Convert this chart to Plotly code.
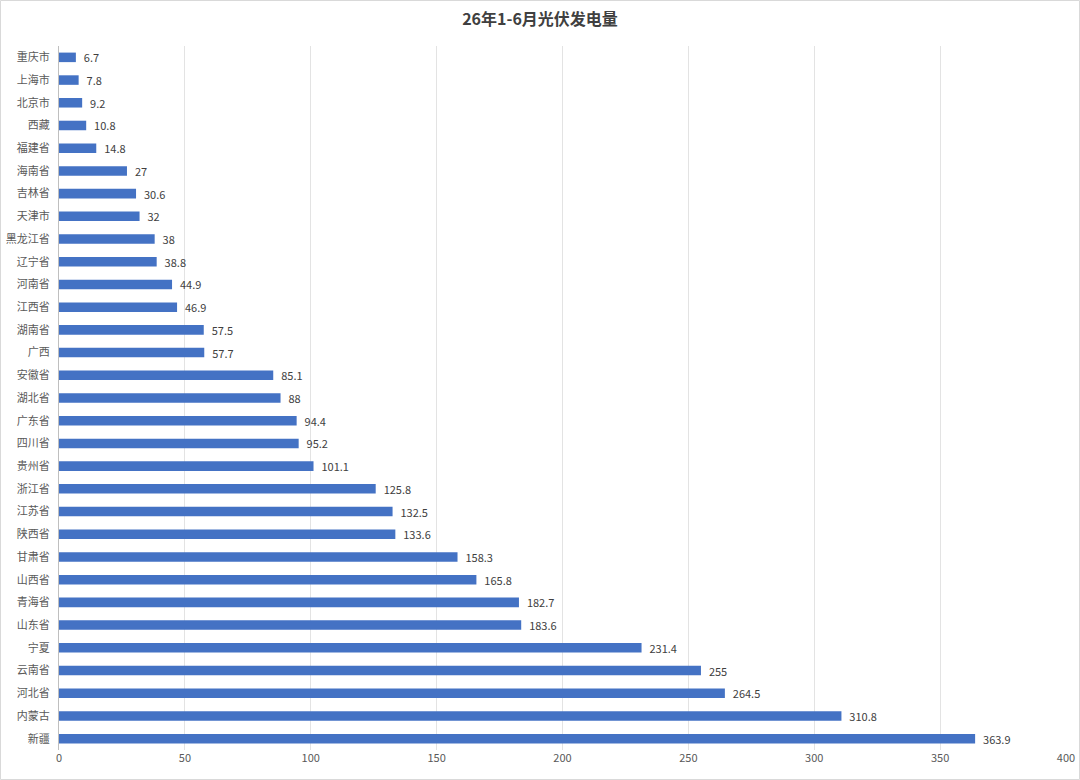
import plotly.graph_objects as go

# categories listed bottom -> top as drawn
provinces = ["新疆", "内蒙古", "河北省", "云南省", "宁夏", "山东省", "青海省", "山西省",
             "甘肃省", "陕西省", "江苏省", "浙江省", "贵州省", "四川省", "广东省", "湖北省",
             "安徽省", "广西", "湖南省", "江西省", "河南省", "辽宁省", "黑龙江省", "天津市",
             "吉林省", "海南省", "福建省", "西藏", "北京市", "上海市", "重庆市"]
generation = [363.9, 310.8, 264.5, 255, 231.4, 183.6, 182.7, 165.8,
              158.3, 133.6, 132.5, 125.8, 101.1, 95.2, 94.4, 88,
              85.1, 57.7, 57.5, 46.9, 44.9, 38.8, 38, 32,
              30.6, 27, 14.8, 10.8, 9.2, 7.8, 6.7]
x_ticks = [0, 50, 100, 150, 200, 250, 300, 350, 400]

W, H = 1080, 780
ML, MR, MT, MB = 59, 14, 46, 30
pw, ph = W - ML - MR, H - MT - MB

font = "Noto Sans CJK SC, Microsoft YaHei, sans-serif"

fig = go.Figure()
fig.add_trace(go.Bar(
    x=generation,
    y=provinces,
    orientation="h",
    marker=dict(color="#4472C4", line=dict(width=0)),
    # a little space between bar end and label
    text=["\u00a0\u00a0" + f"{v:g}" for v in generation],
    textposition="outside",
    constraintext="none",
    cliponaxis=False,
    textfont=dict(size=11, color="#404040", family=font),
    hoverinfo="x+y",
))

fig.update_layout(
    template="none",
    width=W, height=H,
    margin=dict(l=ML, r=MR, t=MT, b=MB, autoexpand=False),
    paper_bgcolor="white",
    plot_bgcolor="white",
    bargap=0.58,
    showlegend=False,
    font=dict(family=font, color="#595959"),
    title=dict(text="<b>26年1-6月光伏发电量</b>", x=0.5, xanchor="center",
               y=1 - 19 / H, yanchor="middle",
               font=dict(size=16, color="#404040", family=font)),
    xaxis=dict(range=[0, 400], tickvals=x_ticks, showgrid=True,
               gridcolor="#E3E3E3", gridwidth=1, zeroline=False,
               showline=False, ticks="", automargin=False,
               tickfont=dict(size=11, color="#595959"), fixedrange=True),
    yaxis=dict(categoryorder="array", categoryarray=provinces,
               showline=True, linecolor="#BFBFBF", linewidth=1,
               ticks="", ticklen=0, automargin=False, showgrid=False,
               ticklabelstandoff=6,
               tickfont=dict(size=11, color="#595959"),
               range=[-0.5, len(provinces) - 0.5], fixedrange=True),
)

# thin frame around the whole chart area
fig.add_shape(type="rect", xref="paper", yref="paper",
              x0=(0.5 - ML) / pw, x1=(W - 0.5 - ML) / pw,
              y0=-(MB - 0.5) / ph, y1=1 + (MT - 0.5) / ph,
              line=dict(color="#D9D9D9", width=1), layer="below")

# drop the default page margin so the figure sits at the window corner
fig.write_html("out.html",
               config={"displayModeBar": False},
               post_script="document.body.style.margin='0px';")
